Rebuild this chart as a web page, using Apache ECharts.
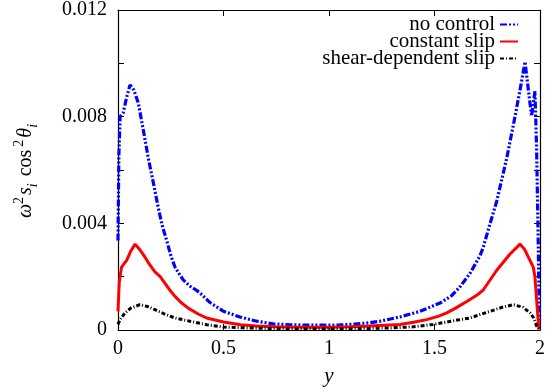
<!DOCTYPE html>
<html><head><meta charset="utf-8">
<script src="https://cdn.jsdelivr.net/npm/echarts@6/dist/echarts.min.js"></script>
<style>html,body{margin:0;padding:0;background:#fff}#c{width:558px;height:392px}</style>
</head><body><div id="c"></div>
<script>
// Data (values in units of 1e-3 for y, scaled below)
const seriesNames = ['no control', 'constant slip', 'shear-dependent slip'];
const xTicks = [0, 0.5, 1, 1.5, 2];
const yTicks = [0, 0.004, 0.008, 0.012];

const xNoControl = [0, 0.004, 0.01, 0.025, 0.04, 0.057, 0.075, 0.096, 0.12, 0.144, 0.168, 0.191, 0.21, 0.231, 0.25, 0.27, 0.29, 0.31, 0.34, 0.37, 0.39, 0.436, 0.5, 0.578, 0.657, 0.736, 0.815, 0.9, 0.973, 1.05, 1.12, 1.19, 1.242, 1.336, 1.431, 1.526, 1.58, 1.621, 1.668, 1.716, 1.731, 1.76, 1.795, 1.842, 1.882, 1.91, 1.929, 1.945, 1.96, 1.97, 1.976, 1.984, 1.992, 1.997];
const yNoControl = [3.36, 6.5, 8.0, 8.15, 8.7, 9.19, 9.0, 8.52, 7.5, 6.43, 5.5, 4.58, 3.9, 3.35, 2.8, 2.36, 2.1, 1.87, 1.65, 1.5, 1.38, 1.03, 0.70, 0.49, 0.33, 0.23, 0.196, 0.18, 0.18, 0.19, 0.22, 0.27, 0.33, 0.49, 0.70, 1.01, 1.28, 1.62, 2.12, 2.79, 3.10, 3.9, 4.83, 6.43, 8.02, 9.2, 10.06, 9.0, 8.02, 8.6, 8.95, 6.8, 3.1, 0.15];

const xConstSlip = [0, 0.006, 0.017, 0.03, 0.041, 0.06, 0.081, 0.1, 0.128, 0.15, 0.175, 0.2, 0.223, 0.25, 0.27, 0.3, 0.333, 0.38, 0.42, 0.5, 0.58, 0.657, 0.75, 0.815, 0.9, 1.0, 1.1, 1.19, 1.26, 1.336, 1.4, 1.463, 1.52, 1.558, 1.6, 1.653, 1.7, 1.731, 1.795, 1.858, 1.89, 1.905, 1.925, 1.945, 1.968, 1.976, 1.984, 1.99, 1.995];
const yConstSlip = [0.70, 1.8, 2.36, 2.5, 2.61, 2.95, 3.22, 3.05, 2.73, 2.45, 2.18, 2.0, 1.75, 1.45, 1.26, 1.02, 0.82, 0.6, 0.45, 0.30, 0.2, 0.15, 0.12, 0.11, 0.1, 0.1, 0.12, 0.15, 0.18, 0.21, 0.29, 0.39, 0.52, 0.64, 0.82, 1.07, 1.3, 1.50, 2.24, 2.85, 3.1, 3.22, 3.05, 2.73, 2.36, 2.0, 1.13, 0.5, 0.02];

const xShearSlip = [0, 0.01, 0.033, 0.06, 0.104, 0.14, 0.175, 0.22, 0.27, 0.341, 0.42, 0.5, 0.6, 0.7, 0.8, 0.9, 1.0, 1.1, 1.2, 1.3, 1.4, 1.494, 1.56, 1.621, 1.668, 1.716, 1.763, 1.82, 1.874, 1.92, 1.953, 1.97, 1.984, 1.995];
const yShearSlip = [0.21, 0.4, 0.64, 0.82, 0.95, 0.88, 0.76, 0.6, 0.45, 0.33, 0.2, 0.11, 0.08, 0.06, 0.05, 0.05, 0.05, 0.05, 0.06, 0.08, 0.12, 0.21, 0.3, 0.39, 0.45, 0.58, 0.70, 0.85, 0.95, 0.85, 0.64, 0.45, 0.15, 0.05];

const yScale = 1e-3;
function pairs(xs, ys) { return xs.map((x, i) => [x, ys[i] * yScale]); }

const FONT = '"Liberation Serif", "Times New Roman", serif';
const chart = echarts.init(document.getElementById('c'), null, {renderer: 'canvas'});

const baseX = {
  type: 'value', min: xTicks[0], max: xTicks[xTicks.length - 1], interval: 0.5,
  axisLine: {show: true, onZero: false, lineStyle: {color: '#000', width: 1.2}},
  axisTick: {show: true, inside: true, length: 6, lineStyle: {color: '#000'}},
  splitLine: {show: false}
};
const baseY = {
  type: 'value', min: yTicks[0], max: yTicks[yTicks.length - 1], interval: 0.004,
  axisLine: {show: true, onZero: false, lineStyle: {color: '#000', width: 1.2}},
  axisTick: {show: true, inside: true, length: 6, lineStyle: {color: '#000'}},
  minorTick: {show: true, splitNumber: 2, length: 6, lineStyle: {color: '#000'}},
  splitLine: {show: false}, minorSplitLine: {show: false}
};

chart.setOption({
  animation: false,
  backgroundColor: '#fff',
  textStyle: {fontFamily: FONT},
  grid: {left: 118, right: 18, top: 9, bottom: 58, containLabel: false},
  legend: {
    orient: 'vertical', right: 34, top: 9, align: 'right',
    itemWidth: 18, itemHeight: 10, itemGap: -4,
    itemStyle: {color: 'rgba(0,0,0,0)', borderWidth: 0, opacity: 0},
    textStyle: {fontFamily: FONT, fontSize: 21, color: '#000'},
    data: seriesNames
  },
  xAxis: [
    Object.assign({}, baseX, {
      position: 'bottom',
      axisLabel: {show: true, margin: 9, fontFamily: FONT, fontSize: 20, color: '#000'},
      name: 'y', nameLocation: 'middle', nameGap: 36,
      nameTextStyle: {fontFamily: FONT, fontSize: 21, fontStyle: 'italic', color: '#000'}
    }),
    Object.assign({}, baseX, {position: 'top', axisLabel: {show: false}})
  ],
  yAxis: [
    Object.assign({}, baseY, {
      position: 'left',
      axisLabel: {show: true, margin: 11, fontFamily: FONT, fontSize: 20, color: '#000'},
      name: '{i|ω}{sup|2}{i|s}{sub|i}{n| cos}{sup|2}{i|θ}{sub|i}',
      nameLocation: 'middle', nameGap: 78, nameRotate: 90,
      nameTextStyle: {
        fontFamily: FONT, fontSize: 20, color: '#000',
        rich: {
          i: {fontFamily: FONT, fontSize: 20, fontStyle: 'italic', color: '#000', lineHeight: 28, verticalAlign: 'middle'},
          n: {fontFamily: FONT, fontSize: 20, color: '#000', lineHeight: 28, padding: [0, 3, 0, 0]},
          sup: {fontFamily: FONT, fontSize: 14, color: '#000', verticalAlign: 'top', lineHeight: 28, padding: [0, 2, 8, 0]},
          sub: {fontFamily: FONT, fontSize: 14, fontStyle: 'italic', color: '#000', verticalAlign: 'bottom', lineHeight: 28, padding: [6, 2, 0, 0]}
        }
      }
    }),
    Object.assign({}, baseY, {position: 'right', axisLabel: {show: false}})
  ],
  series: [
    {
      name: seriesNames[0], type: 'line', symbol: 'none', smooth: false,
      xAxisIndex: 0, yAxisIndex: 0,
      lineStyle: {color: '#0000ff', width: 3.2, type: [7, 2, 2, 2, 2, 2]},
      itemStyle: {color: '#0000ff'},
      data: pairs(xNoControl, yNoControl)
    },
    {
      name: seriesNames[1], type: 'line', symbol: 'none', smooth: false,
      xAxisIndex: 0, yAxisIndex: 0,
      lineStyle: {color: '#ff0000', width: 3, type: 'solid'},
      itemStyle: {color: '#ff0000'},
      data: pairs(xConstSlip, yConstSlip)
    },
    {
      name: seriesNames[2], type: 'line', symbol: 'none', smooth: false,
      xAxisIndex: 0, yAxisIndex: 0,
      lineStyle: {color: '#000000', width: 3, type: [4, 2, 1, 2]},
      itemStyle: {color: '#000000'},
      data: pairs(xShearSlip, yShearSlip)
    }
  ]
});
</script>
</body></html>
